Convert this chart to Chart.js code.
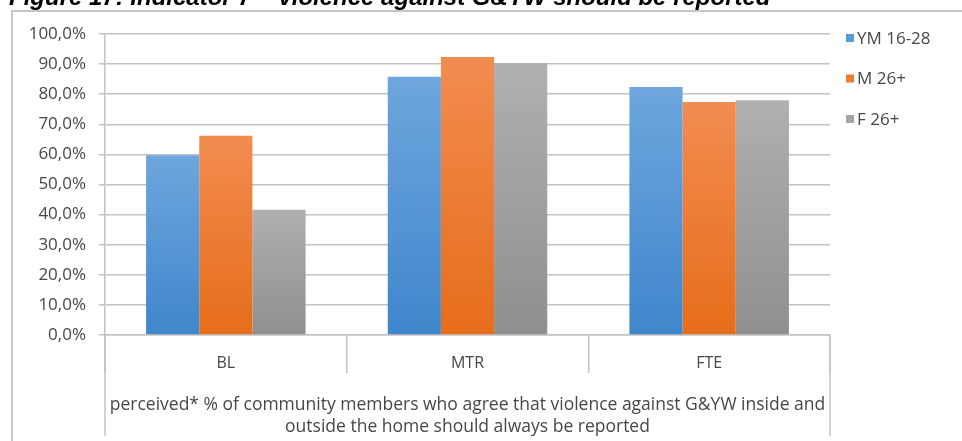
<!DOCTYPE html>
<html>
<head>
<meta charset="utf-8">
<script src="https://cdn.jsdelivr.net/npm/chart.js@4"></script>
<style>
  html, body { margin: 0; padding: 0; background: #fff; }
  #wrap { width: 962px; height: 441px; position: relative; }
</style>
</head>
<body>
<div id="wrap"><canvas id="chart"></canvas></div>
<script>
const categories = ['BL', 'MTR', 'FTE'];
const seriesNames = ['YM 16-28', 'M 26+', 'F 26+'];
const ymValues = [59.7, 85.8, 82.4];
const m26Values = [66.2, 92.4, 77.4];
const f26Values = [41.6, 90.4, 78.0];
const yTicks = [0, 10, 20, 30, 40, 50, 60, 70, 80, 90, 100];
const axisTitle = [
    'perceived* % of community members who agree that violence against G&YW inside and',
    'outside the home should always be reported'
];
const figureTitle = 'Figure 17: Indicator 7 \u2013 violence against G&YW should be reported';

// top / bottom colours of each bar's gradient
const palette = [
    { top: '#6ea6dd', bottom: '#3f86cc', flat: '#5b9bd5' },
    { top: '#f28c50', bottom: '#e66d1a', flat: '#ed7d31' },
    { top: '#b0b0b0', bottom: '#8f8f8f', flat: '#a5a5a5' }
];

const FONT = '"Open Sans", Lato, sans-serif';
const TEXT = '#474747';
const GRID = '#c3c3c3';

function barGradient(idx) {
    return (ctx) => {
        const chart = ctx.chart;
        const c = palette[idx];
        if (ctx.type !== 'data' || !chart.chartArea || !chart.scales.y) return c.flat;
        const y = chart.scales.y;
        const top = y.getPixelForValue(ctx.raw);
        const bottom = y.getPixelForValue(0);
        if (!isFinite(top) || bottom - top < 1) return c.flat;
        const g = chart.ctx.createLinearGradient(0, top, 0, bottom);
        g.addColorStop(0, c.top);
        g.addColorStop(1, c.bottom);
        return g;
    };
}

// frame, figure caption, outer category table lines and legend
const decorations = {
    id: 'decorations',
    beforeDraw(chart) {
        const ctx = chart.ctx;
        ctx.save();
        ctx.fillStyle = '#000';
        ctx.font = 'italic bold 24px "Liberation Sans", Arial, sans-serif';
        ctx.textBaseline = 'alphabetic';
        ctx.fillText(figureTitle, 9, 5);

        ctx.strokeStyle = '#c6c6c6';
        ctx.lineWidth = 2;
        ctx.beginPath();
        ctx.moveTo(12, 441);
        ctx.lineTo(12, 11);
        ctx.lineTo(962, 11);
        ctx.stroke();
        ctx.restore();
    },
    afterDraw(chart) {
        const ctx = chart.ctx;
        const area = chart.chartArea;
        ctx.save();
        ctx.strokeStyle = GRID;
        ctx.lineWidth = 1.5;
        ctx.beginPath();
        [area.left, area.right].forEach(x => {
            ctx.moveTo(x, area.bottom);
            ctx.lineTo(x, 436);
        });
        ctx.stroke();

        ctx.font = '17px ' + FONT;
        ctx.textBaseline = 'middle';
        chart.data.datasets.forEach((ds, i) => {
            const y = 38 + i * 40.5;
            ctx.fillStyle = palette[i].flat;
            ctx.fillRect(846, y - 4, 8, 8);
            ctx.fillStyle = TEXT;
            ctx.fillText(ds.label, 857, y + 1);
        });
        ctx.restore();
    }
};

new Chart(document.getElementById('chart'), {
    type: 'bar',
    data: {
        labels: categories,
        datasets: [ymValues, m26Values, f26Values].map((vals, i) => ({
            label: seriesNames[i],
            data: vals,
            backgroundColor: barGradient(i),
            borderWidth: 0,
            barPercentage: 1,
            categoryPercentage: 0.66
        }))
    },
    options: {
        responsive: true,
        maintainAspectRatio: false,
        animation: false,
        layout: { padding: { top: 34, right: 132, left: 0, bottom: 0 } },
        plugins: {
            legend: { display: false },
            tooltip: { enabled: false }
        },
        scales: {
            x: {
                afterFit(scale) { scale.height = 106; },
                grid: {
                    offset: true,
                    drawOnChartArea: false,
                    tickLength: 38,
                    color: GRID,
                    lineWidth: 1.5
                },
                border: { color: GRID, width: 1.5 },
                ticks: {
                    padding: -19,
                    color: TEXT,
                    font: { family: FONT, size: 16 }
                },
                title: {
                    display: true,
                    text: axisTitle,
                    color: TEXT,
                    padding: { top: 0, bottom: 3 },
                    font: { family: FONT, size: 17.5, lineHeight: 22 / 17.5 }
                }
            },
            y: {
                min: 0,
                max: 100,
                afterFit(scale) { scale.width = 105; },
                afterBuildTicks(scale) {
                    scale.ticks = yTicks.map(v => ({ value: v }));
                },
                grid: { color: GRID, lineWidth: 1.5, tickLength: 6 },
                border: { color: GRID, width: 1.5 },
                ticks: {
                    padding: 13,
                    color: TEXT,
                    font: { family: FONT, size: 17 },
                    callback: v => v.toFixed(1).replace('.', ',') + '%'
                }
            }
        }
    },
    plugins: [decorations]
});
</script>
</body>
</html>
